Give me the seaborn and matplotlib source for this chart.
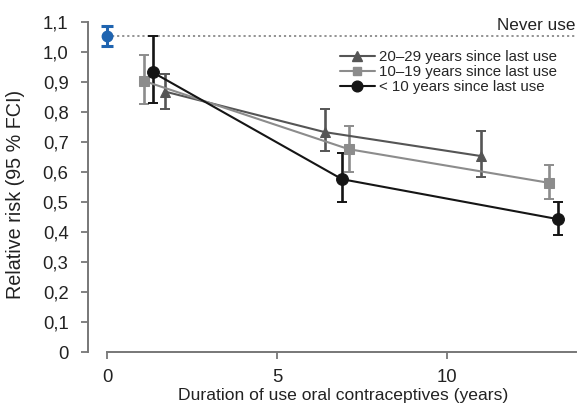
import numpy as np
import pandas as pd
import matplotlib
matplotlib.use("Agg")
import matplotlib.pyplot as plt
from matplotlib.lines import Line2D
import seaborn as sns

# Relative risk by duration of oral contraceptive use, per time since last use
groups = ["20–29 years since last use", "10–19 years since last use", "< 10 years since last use"]

dur_20_29 = [1.70, 6.40, 11.01]
rr_20_29 = [0.869, 0.734, 0.654]
lo_20_29 = [0.811, 0.672, 0.584]
hi_20_29 = [0.927, 0.810, 0.738]

dur_10_19 = [1.09, 7.11, 13.00]
rr_10_19 = [0.904, 0.677, 0.565]
lo_10_19 = [0.827, 0.602, 0.510]
hi_10_19 = [0.991, 0.755, 0.623]

dur_lt10 = [1.34, 6.91, 13.26]
rr_lt10 = [0.933, 0.577, 0.444]
lo_lt10 = [0.830, 0.502, 0.391]
hi_lt10 = [1.054, 0.665, 0.502]

# Reference group: never users
never_dur = 0.0
never_rr = 1.054
never_lo = 1.022
never_hi = 1.089

yticks = [0, 0.1, 0.2, 0.3, 0.4, 0.5, 0.6, 0.7, 0.8, 0.9, 1.0, 1.1]
ytick_labels = ["0", "0,1", "0,2", "0,3", "0,4", "0,5", "0,6", "0,7", "0,8", "0,9", "1,0", "1,1"]
xticks = [0, 5, 10]

colors = {groups[0]: "#555555", groups[1]: "#8c8c8c", groups[2]: "#151515"}
markers = {groups[0]: "^", groups[1]: "s", groups[2]: "o"}
msizes = {groups[0]: 7.5, groups[1]: 7, groups[2]: 8.5}

series = [
    (groups[0], dur_20_29, rr_20_29, lo_20_29, hi_20_29),
    (groups[1], dur_10_19, rr_10_19, lo_10_19, hi_10_19),
    (groups[2], dur_lt10, rr_lt10, lo_lt10, hi_lt10),
]
df = pd.concat(
    [pd.DataFrame({"group": g, "duration": d, "rr": r, "lo": l, "hi": h})
     for g, d, r, l, h in series],
    ignore_index=True,
)

sns.set_theme(style="ticks")
plt.rcParams["font.family"] = ["Liberation Sans", "DejaVu Sans"]

W, H = 577, 403
fig = plt.figure(figsize=(W / 100, H / 100), dpi=100)
ax = fig.add_axes([88 / W, 1 - 352.3 / H, (576 - 88) / W, (352.3 - 22.3) / H])

# Dotted reference line for never users
ax.plot([never_dur, 13.8], [never_rr, never_rr], ls=(0, (1.2, 1.6)), color="#8a8a8a", lw=1.3,
        zorder=1, clip_on=False)
ax.text(13.8, never_rr + 0.012, "Never use", ha="right", va="bottom", fontsize=12.3,
        color="#222222")

# Confidence intervals
for g, d, r, l, h in series:
    r = np.array(r); l = np.array(l); h = np.array(h)
    ax.errorbar(d, r, yerr=[r - l, h - r], fmt="none", ecolor=colors[g], elinewidth=1.9,
                capsize=3.5, capthick=1.4, zorder=2)

# Lines with markers
for _, sub in df.groupby("group", sort=False):
    g = sub["group"].iloc[0]
    sns.lineplot(data=sub, x="duration", y="rr", ax=ax, color=colors[g], lw=1.5,
                 marker=markers[g], markersize=msizes[g], markeredgecolor=colors[g],
                 zorder=3, legend=False)

# Never users point
ax.errorbar([never_dur], [never_rr], yerr=[[never_rr - never_lo], [never_hi - never_rr]],
            fmt="o", color="#1f64b0", ecolor="#1f64b0", markersize=7.5, elinewidth=2.2,
            capsize=4.5, capthick=2.2, zorder=4, clip_on=False)

ax.set_xlim(-0.57, 13.8)
ax.set_ylim(0, 1.1)
ax.set_yticks(yticks)
ax.set_yticklabels(ytick_labels)
ax.set_xticks(xticks)
ax.tick_params(axis="both", labelsize=13.3, colors="#777777", labelcolor="#222222",
               length=5, width=1.3)
ax.tick_params(axis="y", pad=9)
ax.tick_params(axis="x", pad=7)
for s in ["top", "right"]:
    ax.spines[s].set_visible(False)
for s in ["left", "bottom"]:
    ax.spines[s].set_color("#777777")
    ax.spines[s].set_linewidth(1.4)
ax.spines["left"].set_bounds(0, 1.1)
ax.spines["bottom"].set_bounds(0, 13.8)

ax.set_ylabel("Relative risk (95 % FCI)", fontsize=14.2, color="#222222")
ax.yaxis.set_label_coords(25 / W, 1 - 194 / H, transform=fig.transFigure)
ax.set_xlabel("Duration of use oral contraceptives (years)", fontsize=12.6, color="#222222")
ax.xaxis.set_label_coords(343.5 / W, 1 - 388 / H, transform=fig.transFigure)

handles = [Line2D([], [], color=colors[g], lw=1.5, marker=markers[g], markersize=msizes[g] - 0.8)
           for g in groups]
leg = ax.legend(handles, groups, loc="upper left", bbox_to_anchor=(340 / W, 1 - 50 / H),
                bbox_transform=fig.transFigure, frameon=False, fontsize=10.8,
                handlelength=2.3, handletextpad=0.3, labelspacing=0.08, borderpad=0,
                borderaxespad=0)

fig.savefig("out.png", dpi=100)
